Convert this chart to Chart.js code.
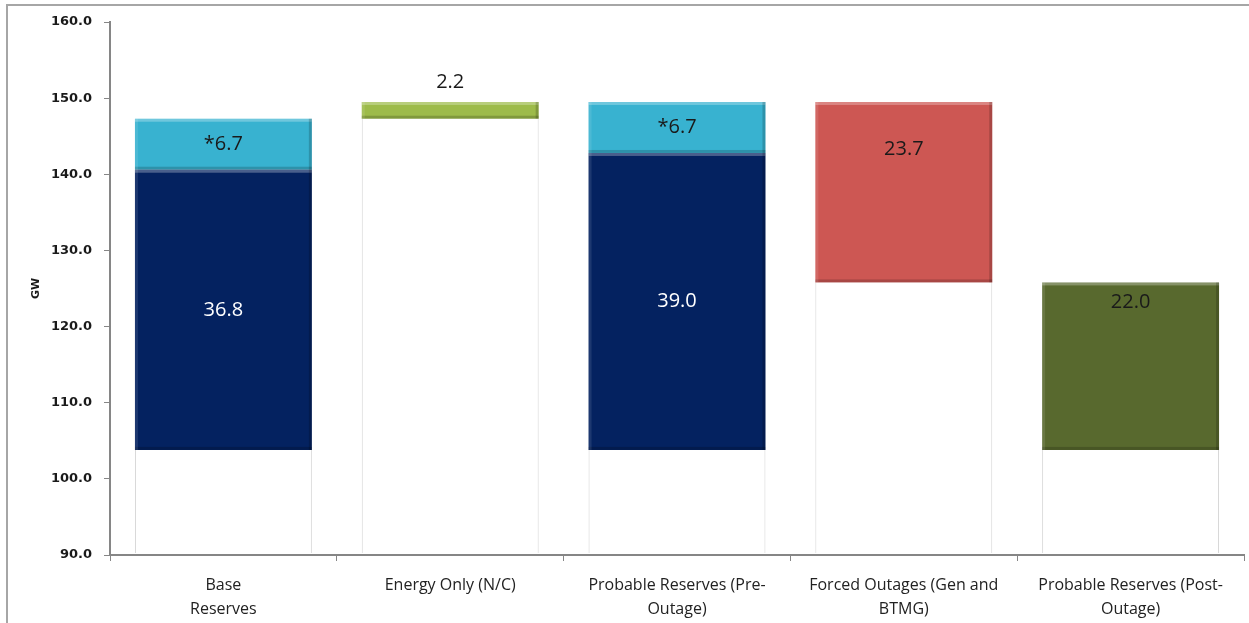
<!DOCTYPE html>
<html>
<head>
<meta charset="utf-8">
<script src="https://cdn.jsdelivr.net/npm/chart.js@4"></script>
<style>
  html, body { margin: 0; padding: 0; background: #fff; }
  #wrap { position: relative; width: 1249px; height: 623px; overflow: hidden; }
  #frame { position: absolute; left: 6px; top: 4px; width: 1300px; height: 700px;
           border-left: 2px solid #a6a6a6; border-top: 2px solid #a6a6a6; }
  canvas { position: absolute; left: 0; top: 0; }
</style>
</head>
<body>
<div id="wrap">
  <div id="frame"></div>
  <canvas id="chart" width="1249" height="623"></canvas>
</div>
<script>
const categories = [
  ["Base", "Reserves"],
  "Energy Only (N/C)",
  ["Probable Reserves (Pre-", "Outage)"],
  ["Forced Outages (Gen and", "BTMG)"],
  ["Probable Reserves (Post-", "Outage)"]
];

// invisible base of each waterfall step (GW)
const baseValues = [103.8, 147.3, 103.8, 125.8, 103.8];
const reserveValues = [36.8, null, 39.0, null, null];
const seasonalValues = [6.7, null, 6.7, null, null];
const energyOnlyValues = [null, 2.2, null, null, null];
const outageValues = [null, null, null, 23.7, null];
const postOutageValues = [null, null, null, null, 22.0];

const reserveLabels = ["36.8", "", "39.0", "", ""];
const seasonalLabels = ["*6.7", "", "*6.7", "", ""];
const energyOnlyLabels = ["", "2.2", "", "", ""];
const outageLabels = ["", "", "", "23.7", ""];
const postOutageLabels = ["", "", "", "", "22.0"];

const yMin = 90, yMax = 160, yStep = 10;

// draw the value labels on the bars
const barLabels = {
  id: "barLabels",
  afterDatasetsDraw(chart) {
    const ctx = chart.ctx;
    chart.data.datasets.forEach((ds, di) => {
      if (!ds.valueLabels) return;
      const meta = chart.getDatasetMeta(di);
      meta.data.forEach((bar, i) => {
        const text = ds.valueLabels[i];
        if (!text) return;
        let y;
        if (ds.labelPos === "center") y = (bar.y + bar.base) / 2;
        else if (ds.labelPos === "top") y = bar.y + ds.labelOffset;
        else y = bar.y - 20;
        ctx.save();
        ctx.font = "20px 'Open Sans'";
        ctx.fillStyle = ds.labelColor || "#1a1a1a";
        ctx.textAlign = "center";
        ctx.textBaseline = "middle";
        ctx.fillText(text, bar.x, y);
        ctx.restore();
      });
    });
  }
};

// simple bevel look for the coloured bars
const bevel = {
  id: "bevel",
  afterDatasetsDraw(chart) {
    const ctx = chart.ctx;
    chart.data.datasets.forEach((ds, di) => {
      if (!ds.bevel) return;
      const meta = chart.getDatasetMeta(di);
      meta.data.forEach((bar, i) => {
        if (ds.data[i] == null) return;
        const w = bar.width, x0 = bar.x - w / 2, top = bar.y, bot = bar.base;
        ctx.save();
        ctx.fillStyle = "rgba(255,255,255,0.28)";
        ctx.fillRect(x0, top, w, 3);
        ctx.fillStyle = "rgba(0,0,0,0.18)";
        ctx.fillRect(x0, bot - 3, w, 3);
        ctx.fillRect(x0 + w - 3, top, 3, bot - top);
        ctx.fillStyle = "rgba(255,255,255,0.10)";
        ctx.fillRect(x0, top, 3, bot - top);
        ctx.restore();
      });
    });
  }
};

const ctx = document.getElementById("chart").getContext("2d");
new Chart(ctx, {
  type: "bar",
  data: {
    labels: categories,
    datasets: [
      { label: "base", data: baseValues, backgroundColor: "#ffffff",
        borderColor: "#d4d4d4", borderWidth: { left: 1, right: 1, top: 0, bottom: 0 },
        clip: { left: 0, top: 0, right: 0, bottom: -2 } },
      { label: "reserves", data: reserveValues, backgroundColor: "#042260", bevel: true,
        valueLabels: reserveLabels, labelPos: "center", labelColor: "#ffffff" },
      { label: "seasonal", data: seasonalValues, backgroundColor: "#38b2d0", bevel: true,
        valueLabels: seasonalLabels, labelPos: "center" },
      { label: "energy only", data: energyOnlyValues, backgroundColor: "#9dbb4a", bevel: true,
        valueLabels: energyOnlyLabels, labelPos: "above" },
      { label: "outages", data: outageValues, backgroundColor: "#cd5753", bevel: true,
        valueLabels: outageLabels, labelPos: "top", labelOffset: 47 },
      { label: "post outage", data: postOutageValues, backgroundColor: "#58692e", bevel: true,
        valueLabels: postOutageLabels, labelPos: "top", labelOffset: 20 }
    ]
  },
  options: {
    responsive: false,
    animation: false,
    events: [],
    layout: { padding: { top: 22, right: 5, bottom: 0, left: 0 } },
    datasets: { bar: { barPercentage: 0.78, categoryPercentage: 1.0 } },
    plugins: { legend: { display: false }, tooltip: { enabled: false } },
    scales: {
      x: {
        stacked: true,
        z: 1,
        grid: { offset: true, drawOnChartArea: false, tickLength: 6, color: "#868686" },
        border: { color: "#868686", width: 2 },
        ticks: { color: "#222", font: { family: "Open Sans", size: 16, lineHeight: 1.5 },
                 padding: 12, maxRotation: 0, autoSkip: false },
        afterFit(scale) { scale.height = 68; }
      },
      y: {
        stacked: true,
        z: 1,
        min: yMin, max: yMax,
        grid: { drawOnChartArea: false, tickLength: 6, color: "#868686" },
        border: { color: "#868686", width: 2 },
        ticks: {
          stepSize: yStep, padding: 12, color: "#1a1a1a",
          font: { family: "DejaVu Sans", size: 13, weight: "bold" },
          callback: v => v.toFixed(1)
        },
        title: { display: true, text: "GW", color: "#1a1a1a",
                 font: { family: "DejaVu Sans", size: 11, weight: "bold" },
                 padding: { top: 30, bottom: 0 } },
        afterFit(scale) { scale.width = 110; }
      }
    }
  },
  plugins: [bevel, barLabels]
});
</script>
</body>
</html>
